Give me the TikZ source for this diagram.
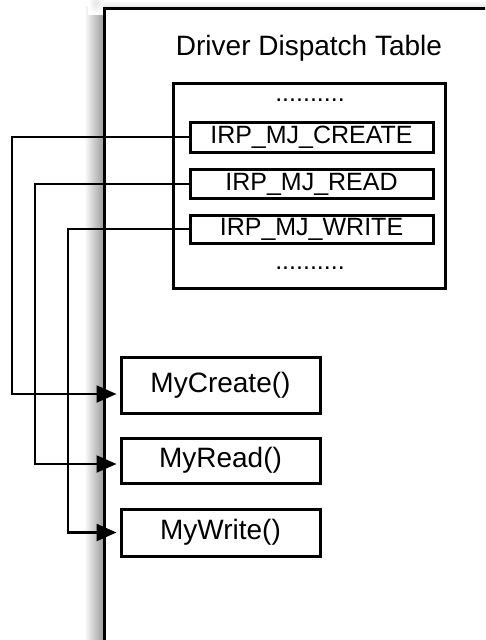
\documentclass[tikz,border=0pt]{standalone}
\usepackage{fontspec}
\setmainfont{Liberation Sans}
\usetikzlibrary{arrows.meta,shadings}
\tikzset{
  box/.style={draw=black, line width=3pt, rectangle, inner sep=0pt, anchor=center},
  irp/.style={box, minimum width=243pt, font=\fontsize{25}{28}\selectfont},
  func/.style={box, minimum width=199pt, font=\fontsize{28}{30}\selectfont},
  link/.style={draw=black, line width=2.2pt, -{Triangle[length=20pt,width=17pt]}, shorten >=3pt},
  txt/.style={inner sep=0pt, anchor=center}
}
\begin{document}
\begin{tikzpicture}[x=1pt,y=-1pt]
\useasboundingbox (0,0) rectangle (485,640);
\clip (0,0) rectangle (485,640);
\fill[white] (0,0) rectangle (485,640);
% shadow of the frame
\shade[left color=white, right color=black!40] (84,6) rectangle (104,640);
\shade[top color=white, bottom color=black!10] (104,0) rectangle (485,8);
\shade[inner color=black!10, outer color=white] (88,-8) rectangle (104,14);
% frame
\draw[line width=3pt] (104.5,660) -- (104.5,8.5) -- (500,8.5);
% title
\node[txt, font=\fontsize{28}{30}\selectfont] (title) at (309,48) {Driver Dispatch Table};
% table box
\node[box, minimum width=272pt, minimum height=205pt] (table) at (309,185.5) {};
\node[txt, font=\fontsize{25}{28}\selectfont] (dotsA) at (310,100) {..........};
\node[txt, font=\fontsize{25}{28}\selectfont] (dotsB) at (310,268) {..........};
\node[irp, minimum height=30pt] (irpC) at (311.5,137) {IRP\_MJ\_CREATE};
\node[irp, minimum height=29pt] (irpR) at (311.5,184) {IRP\_MJ\_READ};
\node[irp, minimum height=28pt] (irpW) at (311.5,229) {IRP\_MJ\_WRITE};
% functions
\node[func, minimum height=56pt] (myC) at (220.5,385) {MyCreate()};
\node[func, minimum height=45pt] (myR) at (220.5,460.5) {MyRead()};
\node[func, minimum height=47pt] (myW) at (220.5,532.5) {MyWrite()};
% connectors
\coordinate (tC) at ([yshift=-9pt]myC.west);
\coordinate (tR) at ([yshift=-3.5pt]myR.west);
\coordinate (tW) at (myW.west);
\draw[link] (irpC.west) -| (12,300) |- (tC);
\draw[link] (irpR.west) -| (35,300) |- (tR);
\draw[link] (irpW.west) -| (68,300) |- (tW);
\end{tikzpicture}
\end{document}
